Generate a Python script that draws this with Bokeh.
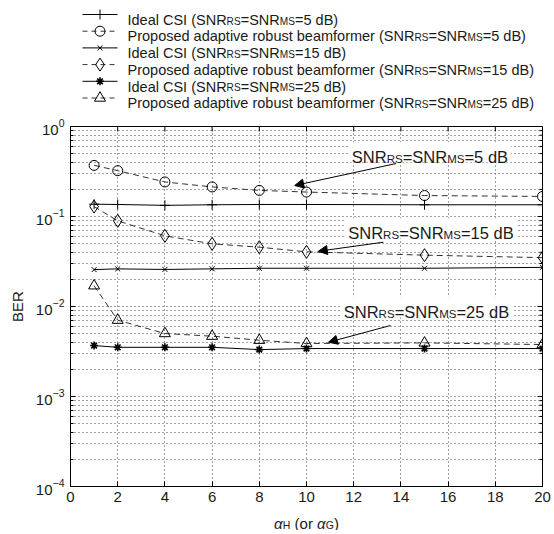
import math
from bokeh.plotting import figure
from bokeh.models import Label, Arrow, NormalHead, FixedTicker, Range1d
from bokeh.layouts import column
from bokeh.embed import file_html
from bokeh.resources import INLINE

# ---------------- data ----------------
alpha = [1, 2, 4, 6, 8, 10, 15, 20]
ber_ideal_5 = [0.137, 0.136, 0.133, 0.135, 0.136, 0.136, 0.135, 0.135]
ber_prop_5 = [0.370, 0.323, 0.242, 0.213, 0.195, 0.187, 0.171, 0.167]
ber_ideal_15 = [0.0257, 0.0262, 0.0258, 0.0262, 0.0266, 0.0266, 0.0266, 0.0272]
ber_prop_15 = [0.129, 0.0895, 0.061, 0.0497, 0.0456, 0.0405, 0.0372, 0.0349]
ber_ideal_25 = [0.00368, 0.00352, 0.00352, 0.00352, 0.00332, 0.00341, 0.00341, 0.00341]
ber_prop_25 = [0.0170, 0.00705, 0.00501, 0.00468, 0.00422, 0.00388, 0.00394, 0.00378]

x_ticks = [0, 2, 4, 6, 8, 10, 12, 14, 16, 18, 20]
y_ticks = [1e-4, 1e-3, 1e-2, 1e-1, 1.0]
y_minor = [k * 10.0 ** e for e in range(-4, 0) for k in range(2, 10)]

FONT = "Liberation Sans"
INK = "#1a1a1a"
GRID = "#444444"
GRID_DASH = "1 3"

# Arial-compatible advance widths (1/1000 em)
W = {' ': 278, '(': 333, ')': 333, '=': 584, 'A': 667, 'B': 667, 'C': 722,
     'E': 667, 'G': 778, 'H': 722, 'I': 278, 'M': 833, 'N': 722, 'P': 667,
     'R': 722, 'S': 667, 'a': 556, 'b': 556, 'd': 556, 'e': 556, 'f': 278,
     'i': 222, 'l': 222, 'm': 833, 'o': 556, 'p': 556, 'r': 333, 's': 500,
     't': 278, 'u': 556, 'v': 500, 'α': 578}
for dgt in "0123456789":
    W[dgt] = 556


def tw(s, size):
    return sum(W.get(c, 556) for c in s) * size / 1000.0


SUB = 0.7


def rich(parts, size):
    """Lay out (text, kind) runs; leading/trailing blanks only advance the pen."""
    out, cur = [], 0.0
    for t, kind in parts:
        fs = size * SUB if kind == 's' else size
        lead = len(t) - len(t.lstrip(' '))
        core = t.strip(' ')
        cur += tw(' ' * lead, fs)
        out.append((core, cur, fs, kind))
        cur += tw(t.lstrip(' '), fs)
    return out, cur


def snr_parts(db, prefix="", close=""):
    return [(prefix + "SNR", 'n'), ("RS", 's'), ("=SNR", 'n'), ("MS", 's'),
            ("=%d dB%s" % (db, close), 'n')]


series = [
    ("Ideal CSI (", ber_ideal_5, "solid", "cross", 10, 5),
    ("Proposed adaptive robust beamformer (", ber_prop_5, "dashed", "circle", 10, 5),
    ("Ideal CSI (", ber_ideal_15, "solid", "x", 7, 15),
    ("Proposed adaptive robust beamformer (", ber_prop_15, "dashed", "diamond", 13, 15),
    ("Ideal CSI (", ber_ideal_25, "solid", "asterisk", 8, 25),
    ("Proposed adaptive robust beamformer (", ber_prop_25, "dashed", "triangle", 11, 25),
]

# canvas geometry (all three panels share the same horizontal frame)
CW = 554
BL, BR = 70, 12
FX0, FX1 = BL, CW - BR          # frame in canvas pixels


def panel(h):
    f = figure(width=CW, height=h, x_range=Range1d(FX0, FX1), y_range=Range1d(h, 0),
               toolbar_location=None, output_backend="svg", title=None,
               min_border_left=BL, min_border_right=BR, min_border_top=0,
               min_border_bottom=0, x_axis_location=None, y_axis_location=None)
    f.grid.visible = False
    f.outline_line_color = None
    return f


def rich_text(fig, parts, x0, base, size, sub_down):
    segs, wtot = rich(parts, size)
    for t, dx, fs, kind in segs:
        yy = base + (sub_down if kind == 's' else 0)
        fig.text([x0 + dx], [yy], text=[t], text_font={"value": FONT},
                 text_font_size={"value": "%.1fpx" % fs}, text_color=INK,
                 text_font_style="italic" if kind == 'i' else "normal",
                 text_baseline="alphabetic", text_align="left")
    return wtot


# ---------------- legend panel ----------------
LEG_H = 116
leg = panel(LEG_H)
row_y0, row_dy = 14.0, 16.7
key_x0, key_x1, key_xm, txt_x = 82, 117, 99.5, 127
LEG_FS = 14.5

for i, (prefix, ys, style, mk, ms, db) in enumerate(series):
    ry = row_y0 + i * row_dy
    dash = "solid" if style == "solid" else "5 4"
    col = "black" if style == "solid" else "#333333"
    leg.line([key_x0, key_x1], [ry, ry], line_color=col, line_width=1, line_dash=dash)
    lw = 1.6 if mk == "asterisk" else 1
    leg.scatter([key_xm], [ry], marker=mk, size=ms, line_color="black",
                fill_color=None, line_width=lw)
    rich_text(leg, snr_parts(db, prefix, ")"), txt_x, ry + 5.2, LEG_FS, 0.1 * LEG_FS)

# ---------------- main plot ----------------
MAIN_H = 392
BT, BB = 10, 22
FW, FH = FX1 - FX0, MAIN_H - BT - BB
p = figure(width=CW, height=MAIN_H, y_axis_type="log",
           x_range=Range1d(0, 20), y_range=Range1d(1e-4, 1),
           toolbar_location=None, output_backend="svg", title=None,
           min_border_left=BL, min_border_right=BR, min_border_top=BT, min_border_bottom=BB,
           background_fill_color="white", border_fill_color="white")
ppx = FW / 20.0
ppd = FH / 4.0

p.outline_line_color = "black"
p.outline_line_width = 1

p.xaxis.ticker = FixedTicker(ticks=x_ticks)
p.yaxis.ticker = FixedTicker(ticks=y_ticks, minor_ticks=y_minor)

for ax in [p.xaxis[0], p.yaxis[0]]:
    ax.axis_line_color = "black"
    ax.major_tick_in = 5
    ax.major_tick_out = 0
    ax.minor_tick_in = 3
    ax.minor_tick_out = 0
    ax.major_label_text_font = FONT
    ax.major_label_text_font_size = "15px"
    ax.major_label_text_color = INK
p.xaxis.major_label_standoff = 5
p.yaxis.major_label_standoff = 6
p.xaxis.minor_tick_in = 0
p.xaxis.minor_tick_line_color = None

p.yaxis.axis_label = "BER"
p.yaxis.axis_label_text_font = FONT
p.yaxis.axis_label_text_font_style = "normal"
p.yaxis.axis_label_text_font_size = "15px"
p.yaxis.axis_label_text_color = INK
p.yaxis.axis_label_standoff = 7

p.xgrid.grid_line_color = GRID
p.xgrid.grid_line_dash = GRID_DASH
p.ygrid.grid_line_color = GRID
p.ygrid.grid_line_dash = GRID_DASH
p.ygrid.minor_grid_line_color = GRID
p.ygrid.minor_grid_line_dash = GRID_DASH

# top / right box ticks (half of each dash is clipped by the frame)
p.scatter(x_ticks, [y_ticks[-1]] * len(x_ticks), marker="dash", angle=math.pi / 2,
          size=10, line_color="black", line_width=1)
p.scatter([x_ticks[-1]] * len(y_ticks), y_ticks, marker="dash", size=10,
          line_color="black", line_width=1)
p.scatter([x_ticks[-1]] * len(y_minor), y_minor, marker="dash", size=6,
          line_color="black", line_width=1)


def ydata(y_base, px_up):
    return y_base * 10 ** (px_up / ppd)


# annotation boxes + texts
ANN_FS = 16.5
ann = [(5, 11.92, 0.456), (15, 11.77, 0.0652), (25, 11.58, 0.00865)]
box_x, box_y, box_w, box_h = [], [], [], []
ann_labels = []
for db, ax0, ay0 in ann:
    segs, wtot = rich(snr_parts(db), ANN_FS)
    left_px, right_px = -3, wtot + 3
    top_px, bot_px = 15, -5
    box_x.append(ax0 + (left_px + right_px) / 2 / ppx)
    box_y.append(ydata(ay0, (top_px + bot_px) / 2))
    box_w.append(right_px - left_px)
    box_h.append(top_px - bot_px)
    for t, dx, fs, kind in segs:
        yy = ydata(ay0, -0.1 * ANN_FS) if kind == 's' else ay0
        ann_labels.append(Label(x=ax0 + dx / ppx, y=yy, text=t, text_font=FONT,
                                text_font_size="%.1fpx" % fs, text_color=INK,
                                text_baseline="alphabetic", text_align="left"))

p.rect(box_x, box_y, width=box_w, height=box_h, width_units="screen",
       height_units="screen", fill_color="white", line_color=None)

for prefix, ys, style, mk, ms, db in series:
    dash = "solid" if style == "solid" else "6 4"
    col = "black" if style == "solid" else "#333333"
    p.line(alpha, ys, line_color=col, line_width=1, line_dash=dash)
    lw = 1.6 if mk == "asterisk" else 1
    p.scatter(alpha, ys, marker=mk, size=ms, line_color="black", fill_color=None,
              line_width=lw)

for lab in ann_labels:
    p.add_layout(lab)

arrows = [((13.8, 0.388), (9.5, 0.221)),
          ((13.26, 0.0518), (10.5, 0.0411)),
          ((13.56, 0.00615), (10.93, 0.00401))]
for (xs, ys_), (xe, ye) in arrows:
    p.add_layout(Arrow(x_start=xs, y_start=ys_, x_end=xe, y_end=ye, line_color="black",
                       line_width=1,
                       end=NormalHead(size=9, fill_color="black", line_color="black",
                                      line_width=1)))

# ---------------- x-axis label panel ----------------
XL_H = 22
xlp = panel(XL_H)
XL_FS = 15
XL_PARTS = [("α", 'i'), ("H", 's'), (" (or ", 'n'), ("α", 'i'), ("G", 's'), (")", 'n')]
_, xw = rich(XL_PARTS, XL_FS)
rich_text(xlp, XL_PARTS, (FX0 + FX1) / 2 - xw / 2, 14.5, XL_FS, 0.1 * XL_FS)

layout = column(leg, p, xlp, spacing=0)
open("out.html", "w").write(file_html(layout, INLINE))
